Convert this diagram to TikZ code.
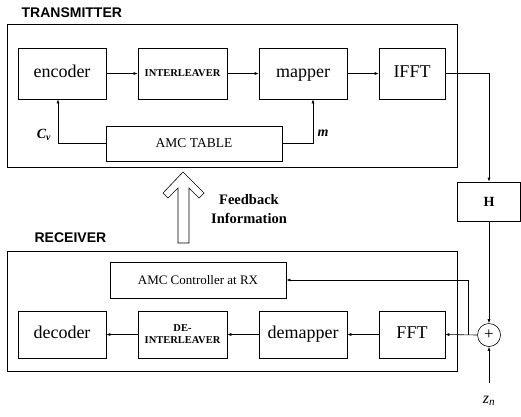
\documentclass[tikz,border=0pt]{standalone}
\usepackage{fontspec}
\setmainfont{Liberation Serif}
\newfontfamily\hdfont{Liberation Sans}
\usetikzlibrary{positioning, arrows.meta}

\begin{document}
\begin{tikzpicture}[x=1pt, y=-1pt, >={Latex[length=4pt,width=3pt]}, line width=0.6pt,
  blk/.style={draw, minimum height=51pt, inner sep=0pt, text height=12pt, text depth=4pt,
    font=\fontsize{18}{20}\selectfont},
  sblk/.style={draw, minimum height=51pt, inner sep=0pt, align=center, font=\fontsize{10.5}{12}\selectfont\bfseries},
  tbl/.style={draw, minimum height=35pt, minimum width=176pt, inner sep=0pt, font=\fontsize{13.5}{15}\selectfont},
  frame/.style={draw, minimum width=450pt, inner sep=0pt},
  hd/.style={anchor=west, font=\hdfont\bfseries\fontsize{14}{16}\selectfont},
  lbl/.style={font=\fontsize{14}{16}\selectfont\bfseries\itshape}]
  \useasboundingbox (0,0) rectangle (521,416);

  % transmitter
  \node[hd] (txlbl) at (18,13) {TRANSMITTER};
  \node[frame, minimum height=143pt] (tx) at (232,95.5) {};
  \node[blk, minimum width=88pt] (enc) at (62,73.5) {encoder};
  \node[sblk, minimum width=89pt] (intl) at (182.5,73.5) {INTERLEAVER};
  \node[blk, minimum width=88pt] (map) at (303,73.5) {mapper};
  \node[blk, minimum width=66pt] (ifft) at (412,73.5) {IFFT};
  \node[tbl] (amc) at (194,143.5) {AMC TABLE};
  \node[lbl] (cv) at (44,135) {C\textsubscript{v}};
  \node[lbl] (m) at (323,133) {m};

  \draw[->] (enc) -- (intl);
  \draw[->] (intl) -- (map);
  \draw[->] (map) -- (ifft);
  \draw[->] (amc.west) -| ([xshift=-4]enc.south);
  \draw[->] (amc.east) -| ([xshift=10]map.south);

  % channel
  \node[draw, minimum width=63pt, minimum height=39pt, inner sep=0pt,
        font=\fontsize{14}{16}\selectfont\bfseries] (H) at (489,201.5) {H};
  \node[draw, circle, minimum size=23pt, inner sep=0pt,
        font=\fontsize{17}{18}\selectfont] (sum) at (489,335) {+};
  \node[font=\fontsize{16}{18}\selectfont\itshape] (zn) at (489,401) {z\textsubscript{n}};
  \coordinate (zin) at (489,383);
  \coordinate (br) at (468,335);
  \draw[->] (ifft.east) -| (H.north);
  \draw[->] (H.south) -- (sum.north);
  \draw[->] (zin) -- (sum.south);

  % feedback
  \draw (183,172) -- (204,193) -- (199,198) -- (189,188) -- (189,243)
    -- (178,243) -- (178,188) -- (168,198) -- (163,193) -- cycle;
  \node[align=center, font=\fontsize{14.5}{19}\selectfont\bfseries] (fb) at (249,209) {Feedback\\Information};

  % receiver
  \node[hd] (rxlbl) at (31,238) {RECEIVER};
  \node[frame, minimum height=120pt] (rx) at (232,311) {};
  \node[tbl, minimum height=36pt, font=\fontsize{13}{15}\selectfont] (ctrl) at (198,280) {AMC Controller at RX};
  \node[blk, minimum width=88pt, minimum height=47pt] (dec) at (62,334.5) {decoder};
  \node[sblk, minimum width=89pt, minimum height=47pt] (dintl) at (182.5,334.5) {DE-\\INTERLEAVER};
  \node[blk, minimum width=88pt, minimum height=47pt] (dmap) at (303,334.5) {demapper};
  \node[blk, minimum width=66pt, minimum height=47pt] (fft) at (412,334.5) {FFT};

  \draw[->] (sum.west) -- (fft.east);
  \draw[->] (br) |- (ctrl.east);
  \draw[->] (fft) -- (dmap);
  \draw[->] (dmap) -- (dintl);
  \draw[->] (dintl) -- (dec);
\end{tikzpicture}
\end{document}
